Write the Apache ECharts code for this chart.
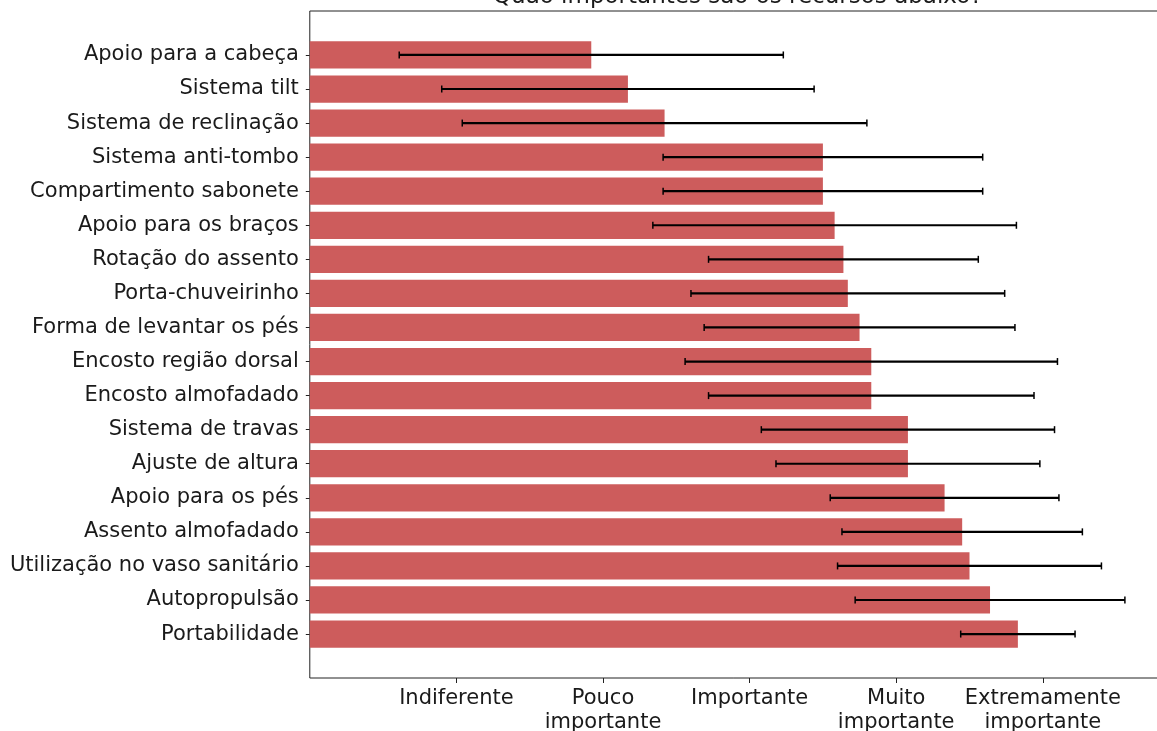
<!DOCTYPE html>
<html>
<head>
<meta charset="utf-8">
<script src="https://cdn.jsdelivr.net/npm/echarts@6/dist/echarts.min.js"></script>
<style>
  html, body { margin: 0; padding: 0; background: #fff; }
  #chart { width: 1157px; height: 731px; }
</style>
</head>
<body>
<div id="chart"></div>
<script>
// Features, listed top to bottom
const features = [
  'Apoio para a cabeça',
  'Sistema tilt',
  'Sistema de reclinação',
  'Sistema anti-tombo',
  'Compartimento sabonete',
  'Apoio para os braços',
  'Rotação do assento',
  'Porta-chuveirinho',
  'Forma de levantar os pés',
  'Encosto região dorsal',
  'Encosto almofadado',
  'Sistema de travas',
  'Ajuste de altura',
  'Apoio para os pés',
  'Assento almofadado',
  'Utilização no vaso sanitário',
  'Autopropulsão',
  'Portabilidade'
];
// Mean importance score (1 = Indiferente ... 5 = Extremamente importante)
const means = [1.92, 2.17, 2.42, 3.50, 3.50, 3.58, 3.64, 3.67, 3.75, 3.83, 3.83, 4.08, 4.08, 4.33, 4.45, 4.50, 4.64, 4.83];
// Standard deviation of each score
const stds = [1.31, 1.27, 1.38, 1.09, 1.09, 1.24, 0.92, 1.07, 1.06, 1.27, 1.11, 1.00, 0.90, 0.78, 0.82, 0.90, 0.92, 0.39];
// Scale tick positions and their labels
const scaleTicks = [1, 2, 3, 4, 5];
const scaleLabels = ['Indiferente', 'Pouco\nimportante', 'Importante', 'Muito\nimportante', 'Extremamente\nimportante'];

const FONT = 'DejaVu Sans';
const FONT_SIZE = 21;
const TEXT_COLOR = '#1a1a1a';
const BAR_COLOR = '#cd5c5c';
const PLOT_LEFT = 309.8;
const UNIT_PX = 146.6;

const barData = means.map((m, i) => [m, i]);
const errData = means.map((m, i) => [m - stds[i], m + stds[i], i]);
const xMax = Math.max(...means.map((m, i) => m + stds[i])) * 1.05;
const plotWidth = xMax * UNIT_PX;

const chart = echarts.init(document.getElementById('chart'), null, { renderer: 'canvas' });

chart.setOption({
  animation: false,
  backgroundColor: '#ffffff',
  graphic: [{
    type: 'text',
    x: PLOT_LEFT + plotWidth / 2,
    y: 9,
    style: {
      text: 'Quão importantes são os recursos abaixo?',
      font: '23px "' + FONT + '"',
      fill: TEXT_COLOR,
      align: 'center',
      verticalAlign: 'bottom'
    },
    z: 10
  }],
  grid: {
    left: PLOT_LEFT, top: 11, width: plotWidth, height: 667,
    outerBoundsMode: 'none',
    containLabel: false,
    show: true, borderColor: '#222', borderWidth: 1, backgroundColor: 'transparent'
  },
  xAxis: {
    type: 'value', min: 0, max: xMax,
    splitLine: { show: false },
    axisLine: { show: false, onZero: false },
    axisTick: { show: true, customValues: scaleTicks, length: 5, lineStyle: { color: '#222' } },
    axisLabel: {
      customValues: scaleTicks,
      formatter: v => scaleLabels[scaleTicks.indexOf(v)] || '',
      fontFamily: FONT, fontSize: FONT_SIZE, color: TEXT_COLOR, margin: 9, lineHeight: 23.5
    }
  },
  yAxis: {
    type: 'value', inverse: true, min: -1.29, max: features.length - 1 + 1.29,
    splitLine: { show: false },
    axisLine: { show: false, onZero: false },
    axisTick: { show: true, customValues: features.map((f, i) => i), length: 4, lineStyle: { color: '#222' } },
    axisLabel: {
      customValues: features.map((f, i) => i),
      formatter: v => features[v] || '',
      fontFamily: FONT, fontSize: FONT_SIZE, color: TEXT_COLOR, margin: 11
    }
  },
  series: [
    {
      name: 'Média',
      type: 'custom',
      data: barData,
      encode: { x: 0, y: 1 },
      renderItem: (params, api) => {
        const i = api.value(1);
        const start = api.coord([0, i]);
        const end = api.coord([api.value(0), i]);
        const h = api.size([0, 0.8])[1];
        return {
          type: 'rect',
          shape: { x: start[0], y: start[1] - h / 2, width: end[0] - start[0], height: h },
          style: { fill: BAR_COLOR }
        };
      },
      z: 2
    },
    {
      name: 'Desvio padrão',
      type: 'custom',
      data: errData,
      encode: { x: [0, 1], y: 2 },
      renderItem: (params, api) => {
        const i = api.value(2);
        const a = api.coord([api.value(0), i]);
        const b = api.coord([api.value(1), i]);
        const cap = 3.5;
        const capStyle = { stroke: '#000', lineWidth: 1.5 };
        return {
          type: 'group',
          children: [
            { type: 'line', shape: { x1: a[0], y1: a[1], x2: b[0], y2: b[1] }, style: { stroke: '#000', lineWidth: 2.2 } },
            { type: 'line', shape: { x1: a[0], y1: a[1] - cap, x2: a[0], y2: a[1] + cap }, style: capStyle },
            { type: 'line', shape: { x1: b[0], y1: b[1] - cap, x2: b[0], y2: b[1] + cap }, style: capStyle }
          ]
        };
      },
      z: 3
    }
  ]
});
</script>
</body>
</html>
